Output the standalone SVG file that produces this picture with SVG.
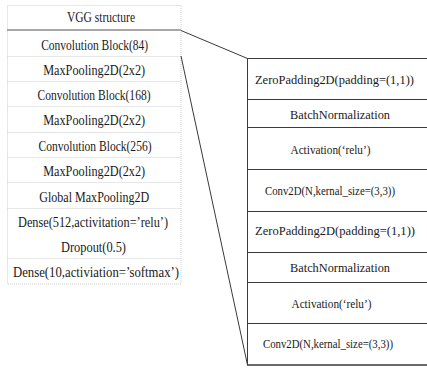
<svg xmlns="http://www.w3.org/2000/svg" width="427" height="369" viewBox="0 0 427 369">
  <style>
    text { font-family: "Liberation Serif", "Times New Roman", serif; fill: #1a1a1a; text-anchor: middle; }
    .lt { font-size: 14.5px; }
    .rt { font-size: 13.5px; }
    .grid { stroke: #cfcfcf; stroke-width: 1; stroke-dasharray: 1 1; fill: none; }
    .head { stroke: #8a8a8a; stroke-width: 1.5; }
    .rule { stroke: #3a3a3a; stroke-width: 1; }
    .link { stroke: #3a3a3a; stroke-width: 1; fill: none; }
  </style>

  <rect width="427" height="369" fill="#ffffff"/>

  <!-- VGG structure table -->
  <g id="vgg-table">
    <rect class="grid" x="7.5" y="5.5" width="173.5" height="278.5"/>
    <line class="head" x1="7" y1="30" x2="181" y2="30"/>
    <g class="grid">
      <line x1="7.5" y1="56.5" x2="181" y2="56.5"/>
      <line x1="7.5" y1="81.5" x2="181" y2="81.5"/>
      <line x1="7.5" y1="106.5" x2="181" y2="106.5"/>
      <line x1="7.5" y1="132.5" x2="181" y2="132.5"/>
      <line x1="7.5" y1="157.5" x2="181" y2="157.5"/>
      <line x1="7.5" y1="182.5" x2="181" y2="182.5"/>
      <line x1="7.5" y1="208.5" x2="181" y2="208.5"/>
      <line x1="7.5" y1="258.5" x2="181" y2="258.5"/>
    </g>
    <g id="vgg-title"><text class="lt" x="101" y="22" textLength="68" lengthAdjust="spacingAndGlyphs">VGG structure</text></g>
    <g id="conv-block-84"><text class="lt" x="94.7" y="49.5" textLength="107" lengthAdjust="spacingAndGlyphs">Convolution Block(84)</text></g>
    <g id="maxpool-1"><text class="lt" x="94.2" y="74.5" textLength="102" lengthAdjust="spacingAndGlyphs">MaxPooling2D(2x2)</text></g>
    <g id="conv-block-168"><text class="lt" x="94" y="99.5" textLength="113" lengthAdjust="spacingAndGlyphs">Convolution Block(168)</text></g>
    <g id="maxpool-2"><text class="lt" x="94.2" y="125" textLength="102" lengthAdjust="spacingAndGlyphs">MaxPooling2D(2x2)</text></g>
    <g id="conv-block-256"><text class="lt" x="95" y="150.5" textLength="113" lengthAdjust="spacingAndGlyphs">Convolution Block(256)</text></g>
    <g id="maxpool-3"><text class="lt" x="94.2" y="176" textLength="102" lengthAdjust="spacingAndGlyphs">MaxPooling2D(2x2)</text></g>
    <g id="global-maxpool"><text class="lt" x="94.3" y="201.5" textLength="110" lengthAdjust="spacingAndGlyphs">Global MaxPooling2D</text></g>
    <g id="dense-512"><text class="lt" x="93" y="226.5" textLength="150" lengthAdjust="spacingAndGlyphs">Dense(512,activitation=’relu’)</text></g>
    <g id="dropout"><text class="lt" x="93.5" y="251.5" textLength="65" lengthAdjust="spacingAndGlyphs">Dropout(0.5)</text></g>
    <g id="dense-10"><text class="lt" x="96" y="277" textLength="166" lengthAdjust="spacingAndGlyphs">Dense(10,activiation=’softmax’)</text></g>
  </g>

  <!-- Convolution block detail -->
  <g id="conv-block-detail">
    <line class="rule" x1="247.5" y1="58" x2="247.5" y2="365"/>
    <g class="rule">
      <line x1="247" y1="58.5" x2="427" y2="58.5"/>
      <line x1="247" y1="99.5" x2="427" y2="99.5"/>
      <line x1="247" y1="127.5" x2="427" y2="127.5"/>
      <line x1="247" y1="169.5" x2="427" y2="169.5"/>
      <line x1="247" y1="211.5" x2="427" y2="211.5"/>
      <line x1="247" y1="252.5" x2="427" y2="252.5"/>
      <line x1="247" y1="282.5" x2="427" y2="282.5"/>
      <line x1="247" y1="323.5" x2="427" y2="323.5"/>
    </g>
    <line x1="247" y1="365" x2="427" y2="365" stroke="#6a6a6a" stroke-width="1.8"/>
    <g id="zeropad-1"><text class="rt" x="334.5" y="83.5" textLength="159" lengthAdjust="spacingAndGlyphs">ZeroPadding2D(padding=(1,1))</text></g>
    <g id="batchnorm-1"><text class="rt" x="340" y="118.5" textLength="100" lengthAdjust="spacingAndGlyphs">BatchNormalization</text></g>
    <g id="activation-1"><text class="rt" x="330.5" y="153.5" textLength="80" lengthAdjust="spacingAndGlyphs">Activation(‘relu’)</text></g>
    <g id="conv2d-1"><text class="rt" x="330" y="194.5" textLength="130" lengthAdjust="spacingAndGlyphs">Conv2D(N,kernal_size=(3,3))</text></g>
    <g id="zeropad-2"><text class="rt" x="335" y="234.5" textLength="160" lengthAdjust="spacingAndGlyphs">ZeroPadding2D(padding=(1,1))</text></g>
    <g id="batchnorm-2"><text class="rt" x="340" y="271.5" textLength="100" lengthAdjust="spacingAndGlyphs">BatchNormalization</text></g>
    <g id="activation-2"><text class="rt" x="331.5" y="307.5" textLength="80" lengthAdjust="spacingAndGlyphs">Activation(‘relu’)</text></g>
    <g id="conv2d-2"><text class="rt" x="328" y="347.5" textLength="130" lengthAdjust="spacingAndGlyphs">Conv2D(N,kernal_size=(3,3))</text></g>
  </g>

  <!-- connectors from Convolution Block(84) to its detail -->
  <g id="connectors">
    <line class="link" x1="181" y1="30.5" x2="247.5" y2="58.5"/>
    <line class="link" x1="181" y1="56" x2="247.5" y2="365"/>
  </g>
</svg>
